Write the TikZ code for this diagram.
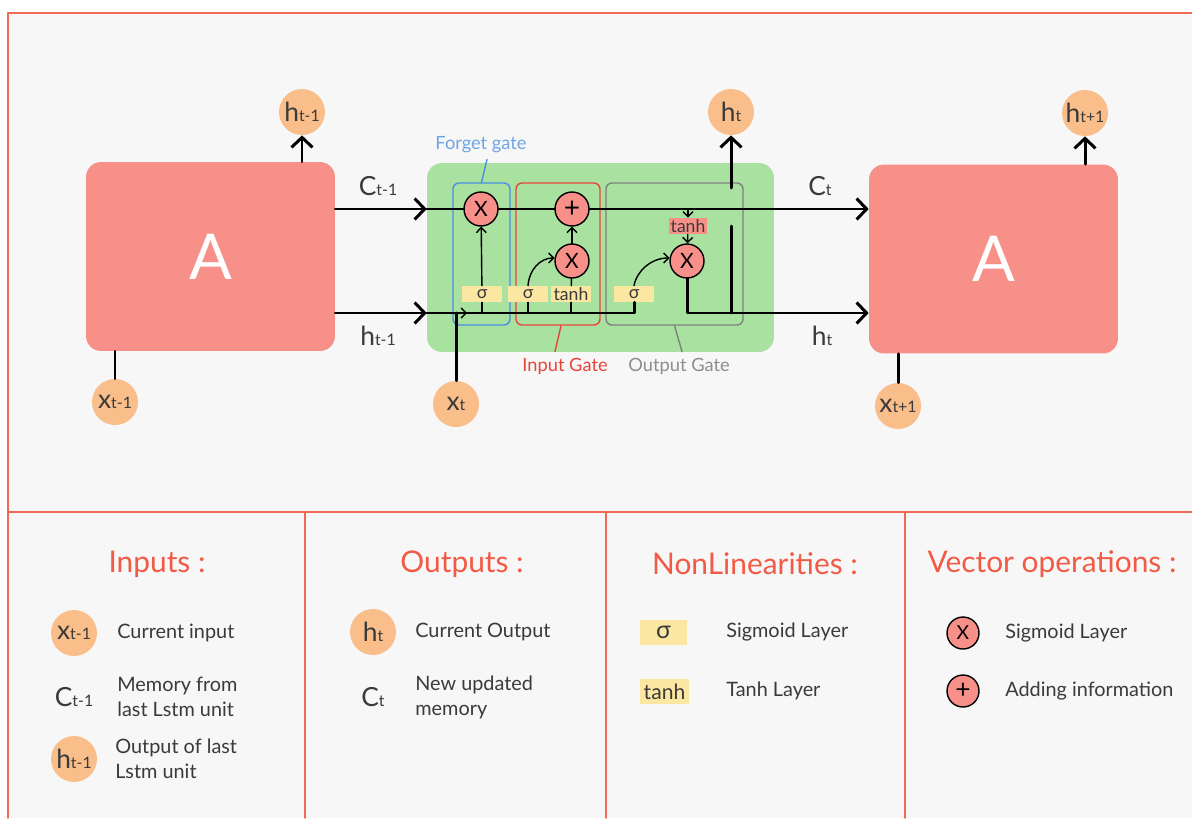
\documentclass[tikz,border=0pt]{standalone}
\usepackage{fontspec}
\setmainfont{Lato}
\usetikzlibrary{arrows.meta,calc}

\definecolor{cellred}{HTML}{F8908A}
\definecolor{statepeach}{HTML}{F9BE8A}
\definecolor{gategreen}{HTML}{A9E1A1}
\definecolor{layeryellow}{HTML}{FBE6A2}
\definecolor{framered}{HTML}{F26A55}
\definecolor{titlered}{HTML}{F25A45}
\definecolor{panelgray}{HTML}{F7F7F7}
\definecolor{forgetblue}{HTML}{4A8FE0}
\definecolor{inputred}{HTML}{E8453A}
\definecolor{outputgray}{HTML}{808080}
\definecolor{inkgray}{HTML}{3A3A3A}

% letter with a small index on the same baseline
\newcommand{\lsub}[2]{#1{\fontsize{9}{9}\selectfont #2}}

\tikzset{
  cellA/.style={fill=cellred, rounded corners=0.3cm, minimum width=4.98cm, minimum height=3.78cm,
    text=white, font=\fontsize{36}{36}\selectfont},
  signal/.style={circle, fill=statepeach, minimum size=0.92cm, inner sep=0pt, text=inkgray,
    font=\fontsize{15}{15}\selectfont},
  wirelabel/.style={inner sep=0pt, text=inkgray, font=\fontsize{15}{15}\selectfont},
  op/.style={circle, draw=black, fill=cellred, line width=0.8pt, minimum size=0.68cm, inner sep=0pt,
    font=\fontsize{12}{12}\selectfont},
  nonlin/.style={fill=layeryellow, minimum width=0.8cm, minimum height=0.32cm, inner sep=0pt,
    text=inkgray, font=\fontsize{10}{10}\selectfont},
  gate/.style={draw, rounded corners=0.12cm, line width=0.8pt},
  gatelabel/.style={font=\fontsize{10.4}{10.4}\selectfont},
  wire/.style={line width=1.7pt},
  thinwire/.style={line width=0.8pt},
  smalltip/.style={-{Straight Barb[length=1mm,width=2mm]}},
  legtitle/.style={text=titlered, font=\fontsize{17}{17}\selectfont},
  legtext/.style={anchor=west, align=left, inner sep=0pt, text=inkgray, font=\fontsize{11.3}{14.2}\selectfont},
}

\begin{document}
\begin{tikzpicture}[x=0.02cm, y=-0.02cm, line cap=round, line join=round,
    >={Straight Barb[length=2mm,width=4.2mm]}]
  \useasboundingbox (0,0) rectangle (1192,818);

  % panel and its frame
  \fill[panelgray] (8,13) rectangle (1192,818);
  \draw[framered, line width=0.8pt] (1192,13) -- (8,13) -- (8,818);
  \draw[framered, line width=0.8pt] (8,512) -- (1192,512);
  \foreach \x in {305,606,905}
    \draw[framered, line width=0.8pt] (\x,512) -- (\x,818);

  % the three cells
  \node[cellA] (Aprev) at (210.5,256.5) {A};
  \node[fill=gategreen, rounded corners=0.3cm, minimum width=6.94cm, minimum height=3.78cm] (cell) at (600.5,257.5) {};
  \node[cellA] (Anext) at (993.5,259) {A};

  % gate outlines
  \node[gate, draw=forgetblue, minimum width=1.14cm, minimum height=2.84cm] (fgate) at (481.5,254) {};
  \node[gate, draw=inputred, minimum width=1.68cm, minimum height=2.84cm] (igate) at (558,254) {};
  \node[gate, draw=outputgray, minimum width=2.74cm, minimum height=2.84cm] (ogate) at (674.5,254) {};

  \node[gatelabel, text=forgetblue!80] (fglabel) at (481,145) {Forget gate};
  \node[gatelabel, text=inputred] (iglabel) at (565,366) {Input Gate};
  \node[gatelabel, text=outputgray!90] (oglabel) at (679,366) {Output Gate};
  \draw[forgetblue, thinwire] ($(fglabel.south)+(6,0)$) -- (fgate.north);
  \draw[inputred, thinwire] ($(igate.south)+(3,0)$) -- ($(iglabel.north)+(-10,0)$);
  \draw[outputgray, thinwire] (ogate.south) -- ($(oglabel.north)+(3,0)$);

  % pointwise operations and layers
  \node[op] (fx) at (481,209) {X};
  \node[op, font=\fontsize{16}{16}\selectfont] (addop) at (572,209) {+};
  \node[op] (ix) at (572,261) {X};
  \node[op] (ox) at (687,261) {X};

  \node[nonlin] (fsig) at (482,294) {σ};
  \node[nonlin] (isig) at (528,294) {σ};
  \node[nonlin] (itanh) at (571,294) {tanh};
  \node[nonlin] (osig) at (634,294) {σ};
  \node[nonlin, fill=cellred, minimum width=0.76cm] (otanh) at (688,226) {tanh};

  % inputs and outputs
  \node[signal] (hprev) at (302,112) {\lsub{h}{t-1}};
  \node[signal] (xprev) at (115,402) {\lsub{x}{t-1}};
  \node[signal] (xt) at (456,404) {\lsub{x}{t}};
  \node[signal] (ht) at (731,112) {\lsub{h}{t}};
  \node[signal] (hnext) at (1085,113) {\lsub{h}{t+1}};
  \node[signal] (xnext) at (898,406) {\lsub{x}{t+1}};

  \node[wirelabel] (cprevlabel) at (378,186) {\lsub{C}{t-1}};
  \node[wirelabel] (hprevlabel) at (378,336) {\lsub{h}{t-1}};
  \node[wirelabel] (ctlabel) at (820,186) {\lsub{C}{t}};
  \node[wirelabel] (htlabel) at (822,336) {\lsub{h}{t}};

  \coordinate (hjoin) at (456,313);

  % cell state
  \draw[wire, ->] (Aprev.east |- fx) -- (cell.west |- fx);
  \draw[wire, ->] (cell.west |- fx) -- (fx) -- (addop) -- (Anext.west |- fx);

  % hidden state and input
  \draw[wire, ->] (Aprev.east |- hjoin) -- (cell.west |- hjoin);
  \draw[wire] (cell.west |- hjoin) -- (osig.south |- hjoin) -- (osig.south);
  \draw[wire] (xt) -- (hjoin);
  \draw[thinwire, smalltip] (hjoin) -- ++(11,0);
  \foreach \g in {fsig,isig,itanh}
    \draw[thinwire] (\g.south |- hjoin) -- (\g.south);

  % inside the gates
  \draw[thinwire, smalltip] (fsig) -- (fx);
  \draw[thinwire, smalltip] (isig.north) .. controls (529,270) and (540,258) .. (ix.170);
  \draw[thinwire] (itanh) -- (ix);
  \draw[thinwire, smalltip] (ix) -- (addop);
  \draw[thinwire, smalltip] (otanh |- fx) -- (otanh);
  \draw[thinwire, smalltip] (otanh) -- (ox);
  \draw[thinwire, smalltip] (osig.north) .. controls (637,270) and (652,258) .. (ox.170);

  % output path
  \draw[wire, ->] (ox) -- (ox |- hjoin) -- (Anext.west |- hjoin);
  \coordinate (htap) at (ht |- hjoin);
  \draw[wire] (htap) -- ($(ht |- fx)+(0,17)$);
  \draw[wire, ->] ($(ht |- fx)+(0,-21)$) -- (ht);

  \draw[wire, ->] (Aprev.north -| hprev) -- (hprev);
  \draw[wire] (Aprev.south -| xprev) -- (xprev);
  \draw[wire, ->] (Anext.north -| hnext) -- (hnext);
  \draw[wire] (Anext.south -| xnext) -- (xnext);

  % legend
  \node[legtitle] (intitle) at (157,564) {Inputs :};
  \node[signal] (lgx) at (74,633) {\lsub{x}{t-1}};
  \node[legtext] (lgxtext) at (117,633) {Current input};
  \node[wirelabel] (lgc) at (74,697) {\lsub{C}{t-1}};
  \node[legtext] (lgctext) at (117,697) {Memory from\\last Lstm unit};
  \node[signal] (lgh) at (74,759) {\lsub{h}{t-1}};
  \node[legtext] (lghtext) at (115,759) {Output of last\\Lstm unit};

  \node[legtitle] (outtitle) at (462,564) {Outputs :};
  \node[signal] (lght) at (373,632) {\lsub{h}{t}};
  \node[legtext] (lghttext) at (415,632) {Current Output};
  \node[wirelabel] (lgct) at (373,697) {\lsub{C}{t}};
  \node[legtext] (lgcttext) at (415,697) {New updated\\memory};

  \node[legtitle] (nltitle) at (755,564) {NonLinearities :};
  \node[nonlin, minimum width=0.94cm, minimum height=0.5cm, font=\fontsize{14}{14}\selectfont] (lgsig) at (663.5,632.5) {σ};
  \node[legtext] (lgsigtext) at (726,632) {Sigmoid Layer};
  \node[nonlin, minimum width=0.98cm, minimum height=0.5cm, font=\fontsize{12}{12}\selectfont] (lgtanh) at (664.5,691.5) {tanh};
  \node[legtext] (lgtanhtext) at (726,691) {Tanh Layer};

  \node[legtitle] (vectitle) at (1052,564) {Vector operations :};
  \node[op, minimum size=0.64cm, font=\fontsize{11}{11}\selectfont] (lgmul) at (963,633) {X};
  \node[legtext] (lgmultext) at (1005,633) {Sigmoid Layer};
  \node[op, minimum size=0.64cm, font=\fontsize{15}{15}\selectfont] (lgadd) at (963,691) {+};
  \node[legtext] (lgaddtext) at (1005,691) {Adding information};
\end{tikzpicture}
\end{document}
